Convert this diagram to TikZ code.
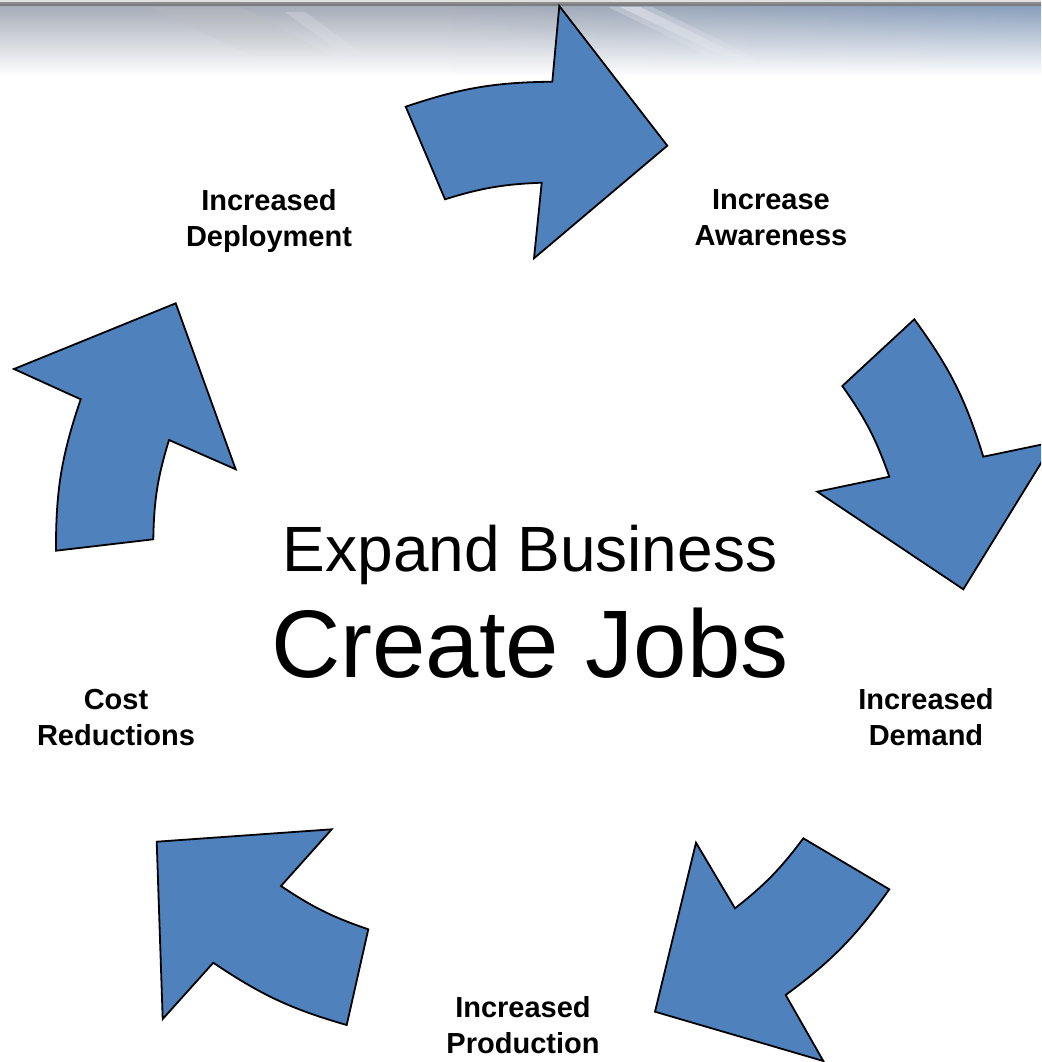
\documentclass[tikz,border=0pt]{standalone}
\usepackage{fontspec}
\setmainfont{Liberation Sans}
\usetikzlibrary{fadings}
\definecolor{arrowblue}{RGB}{79,129,189}
\definecolor{bandgrey}{RGB}{168,174,186}
\definecolor{bandblue}{RGB}{138,160,190}
\definecolor{bandline}{RGB}{104,108,116}
\begin{document}
\begin{tikzpicture}[x=1pt,y=-1pt,
  cyc/.style={fill=arrowblue, draw=black, line width=1.8pt, line join=miter},
  lbl/.style={font=\fontsize{29}{36}\selectfont\bfseries, align=center, inner sep=0pt},
  big/.style={inner sep=0pt, anchor=base}
]
\useasboundingbox (0,0) rectangle (1041,1062);
\clip (0,0) rectangle (1041,1062);
\fill[white] (0,0) rectangle (1041,1062);
% top band
\fill[black!12] (0,0) rectangle (1041,3);
\shade[top color=black!45, bottom color=bandline] (0,2.5) rectangle (1041,7);
\shade[top color=bandgrey, bottom color=white] (0,7) rectangle (1041,76);
\shade[top color=bandblue, bottom color=white, path fading=west] (450,7) rectangle (1041,76);
\fill[black!25, opacity=0.3, path fading=south] (150,7) -- (240,7) -- (340,60) -- (260,60) -- cycle;
\fill[white, opacity=0.25, path fading=south] (608,7) -- (652,7) -- (785,72) -- (740,72) -- cycle;
\fill[white, opacity=0.35, path fading=south] (620,7) -- (640,7) -- (770,70) -- (752,70) -- cycle;
\fill[white, opacity=0.2, path fading=south] (285,12) -- (305,12) -- (380,66) -- (360,66) -- cycle;
% arrows
\path[cyc] (405.7,106.7) to[bend left=9] (552.3,81.7) -- (559.3,6) -- (667.3,145.7) -- (534,258.3) -- (541.7,182.7) to[bend right=7.5] (445,199.3) -- cycle;
\path[cyc] (914.3,319.3) to[bend left=9.5] (983.3,456.7) -- (1054,442) -- (963.3,589.3) -- (817.3,491.7) -- (889.3,476.7) to[bend right=8] (842.3,386) -- cycle;
\path[cyc] (889.3,889.3) to[bend left=9] (785.7,995) -- (823.3,1061) -- (655,1011.7) -- (696,842.7) -- (735,908.3) to[bend right=7.5] (803.3,838.3) -- cycle;
\path[cyc] (346.7,1025) to[bend left=9] (213.3,962.7) -- (162.7,1019) -- (156.7,841.7) -- (331.7,829.3) -- (281,886) to[bend right=7.5] (368.3,929.3) -- cycle;
\path[cyc] (56,550.7) to[bend left=9.5] (80.7,399.3) -- (14,369) -- (175.7,303.3) -- (235.7,469.3) -- (169,440) to[bend right=8] (153.3,539.3) -- cycle;
% labels
\node[lbl] (deploy) at (269,221) {Increased\\Deployment};
\node[lbl] (aware) at (771,218) {Increase\\Awareness};
\node[lbl] (demand) at (926,717) {Increased\\Demand};
\node[lbl] (prod) at (523,1025) {Increased\\Production};
\node[lbl] (cost) at (116,718) {Cost\\Reductions};
\node[big, font=\fontsize{64}{70}\selectfont] (expand) at (530,571) {Expand Business};
\node[big, font=\fontsize{96}{100}\selectfont] (jobs) at (530,677) {Create Jobs};
\end{tikzpicture}
\end{document}
